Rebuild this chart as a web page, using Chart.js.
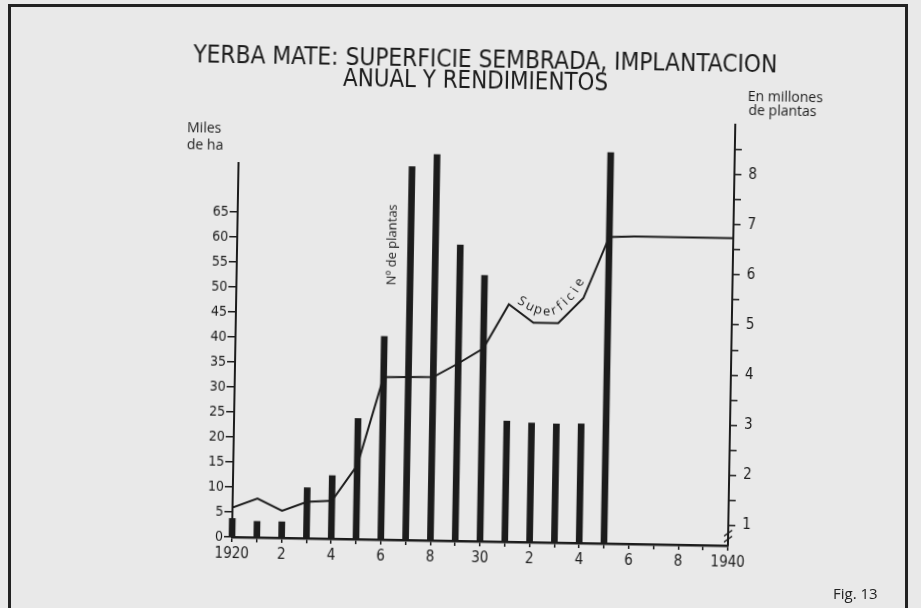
<!DOCTYPE html>
<html>
<head>
<meta charset="utf-8">
<script src="https://cdn.jsdelivr.net/npm/chart.js@4.4.1/dist/chart.umd.min.js"></script>
<style>
  html, body { margin: 0; padding: 0; background: #e9e9e9; }
  #page { position: relative; width: 921px; height: 608px; overflow: hidden; background: #e9e9e9; }
  #frame { position: absolute; left: 8px; top: 4px; width: 900px; height: 700px; border: 3px solid #222; box-sizing: border-box; }
  #plot { position: absolute; left: 0; top: 0; width: 921px; height: 608px; transform-origin: 232px 537px; transform: rotate(1deg); }
  #fig { position: absolute; left: 833px; top: 586px; font: 15px 'Open Sans'; line-height: 15px; color: #222; }
</style>
</head>
<body>
<div id="page">
  <div id="frame"></div>
  <div id="plot"><canvas id="c" width="921" height="608"></canvas></div>
  <div id="fig">Fig. 13</div>
</div>
<script>
// plantas (millones), right axis
const barYears = [1920, 1921, 1922, 1923, 1924, 1925, 1926, 1927, 1928, 1929, 1930, 1931, 1932, 1933, 1934, 1935];
const plantas = [0.96, 0.91, 0.91, 1.6, 1.85, 3.0, 4.65, 8.05, 8.3, 6.5, 5.9, 3.0, 2.97, 2.96, 2.97, 8.4];

// superficie (miles de ha), left axis
const lineYears = [1920, 1921, 1922, 1923, 1924, 1925, 1926, 1927, 1928, 1929, 1930, 1931, 1932, 1933, 1934, 1935, 1936, 1937, 1938, 1939, 1940];
const superficie = [5.9, 7.8, 5.4, 7.3, 7.6, 14.8, 32.5, 32.6, 32.7, 35.5, 38.6, 47.5, 43.9, 43.9, 49, 61.3, 61.5, 61.5, 61.5, 61.5, 61.5];

const xTickYears = lineYears;
const xTickText = ['1920', '', '2', '', '4', '', '6', '', '8', '', '30', '', '2', '', '4', '', '6', '', '8', '', '1940'];
const leftTicks = [0, 5, 10, 15, 20, 25, 30, 35, 40, 45, 50, 55, 60, 65];
const rightTicks = [1, 1.5, 2, 2.5, 3, 3.5, 4, 4.5, 5, 5.5, 6, 6.5, 7, 7.5, 8, 8.5];

const titleLines = ['YERBA MATE: SUPERFICIE SEMBRADA, IMPLANTACION', 'ANUAL Y RENDIMIENTOS'];
// letters of the curved "Superficie" label: [char, year, miles de ha, angle]
const superLabel = [['S', 1931.52, 48.1, 30], ['u', 1931.85, 47.1, 26], ['p', 1932.18, 46.5, 16], ['e', 1932.53, 46.2, 0],
  ['r', 1932.82, 46.4, -20], ['f', 1933.06, 47.2, -38], ['i', 1933.26, 48.2, -46], ['c', 1933.46, 49.2, -50],
  ['i', 1933.66, 50.6, -57], ['e', 1933.83, 52.1, -60]];

const ink = '#1c1c1c';
const narrow = "'Liberation Sans Narrow', 'DejaVu Sans Condensed', sans-serif";
const humanist = "'Open Sans', 'Noto Sans', sans-serif";

function fitText(ctx, text, cx, baseline, width) {
  const w = ctx.measureText(text).width;
  ctx.save();
  ctx.translate(cx, baseline);
  ctx.scale(width / w, 1);
  ctx.fillText(text, 0, 0);
  ctx.restore();
}

const decorations = {
  id: 'decorations',
  afterDraw(chart) {
    const { ctx, chartArea: a, scales: { x, y, y2 } } = chart;
    ctx.save();
    ctx.strokeStyle = ink;
    ctx.fillStyle = ink;

    // left axis stops at 75
    ctx.lineWidth = 2;
    ctx.beginPath();
    ctx.moveTo(a.left, y.getPixelForValue(0));
    ctx.lineTo(a.left, y.getPixelForValue(75));
    ctx.stroke();

    // break mark on right axis
    ctx.lineWidth = 1.5;
    [0.72, 0.84].forEach(v => {
      const py = y2.getPixelForValue(v);
      ctx.beginPath();
      ctx.moveTo(a.right - 4, py + 3);
      ctx.lineTo(a.right + 4, py - 3);
      ctx.stroke();
    });

    // title
    ctx.font = '25px ' + narrow;
    ctx.textAlign = 'center';
    ctx.textBaseline = 'alphabetic';
    fitText(ctx, titleLines[0], 477, 63, 584);
    fitText(ctx, titleLines[1], 467.5, 84, 265);

    // axis units
    ctx.font = '14px ' + humanist;
    ctx.textAlign = 'left';
    ctx.textBaseline = 'middle';
    ctx.fillText('Miles', 180, 129);
    ctx.fillText('de ha', 180, 146);
    ctx.fillText('En millones', 740, 88);
    ctx.fillText('de plantas', 741, 102);

    // series labels
    ctx.font = '13px ' + humanist;
    ctx.textAlign = 'center';
    ctx.save();
    ctx.translate(x.getPixelForValue(1926.25), y.getPixelForValue(59));
    ctx.rotate(-Math.PI / 2);
    ctx.fillText('Nº de plantas', 0, 0);
    ctx.restore();

    superLabel.forEach(([ch, yr, v, ang]) => {
      ctx.save();
      ctx.translate(x.getPixelForValue(yr), y.getPixelForValue(v));
      ctx.rotate(ang * Math.PI / 180);
      ctx.fillText(ch, 0, 0);
      ctx.restore();
    });
    ctx.restore();
  }
};

new Chart(document.getElementById('c'), {
  type: 'bar',
  data: {
    datasets: [
      {
        type: 'line',
        label: 'Superficie',
        data: lineYears.map((yr, i) => ({ x: yr, y: superficie[i] })),
        yAxisID: 'y',
        borderColor: ink,
        borderWidth: 2,
        pointRadius: 0,
        tension: 0,
        fill: false
      },
      {
        label: 'Nº de plantas',
        data: barYears.map((yr, i) => ({ x: yr, y: plantas[i] })),
        yAxisID: 'y2',
        backgroundColor: ink,
        barThickness: 6,
        clip: { left: 5, top: 5, right: 5, bottom: 0 }
      }
    ]
  },
  options: {
    responsive: false,
    maintainAspectRatio: false,
    devicePixelRatio: 1,
    animation: false,
    layout: { padding: { top: 116, left: 0, right: 0, bottom: 0 } },
    plugins: { legend: { display: false }, title: { display: false }, tooltip: { enabled: false } },
    scales: {
      x: {
        type: 'linear',
        offset: false,
        min: 1920,
        max: 1940,
        afterBuildTicks: s => { s.ticks = xTickYears.map(v => ({ value: v })); },
        afterFit: s => { s.height = 71; },
        ticks: {
          autoSkip: false, maxRotation: 0, padding: 3,
          color: ink, font: { family: narrow, size: 15 },
          callback: (v, i) => xTickText[i]
        },
        grid: { offset: false, drawOnChartArea: false, drawTicks: true, tickLength: 5, color: ink, lineWidth: 1.5 },
        border: { display: true, color: ink, width: 2.5 }
      },
      y: {
        position: 'left',
        min: 0,
        max: 84.2,
        afterBuildTicks: s => { s.ticks = leftTicks.map(v => ({ value: v })); },
        afterFit: s => { s.width = 232; },
        ticks: { autoSkip: false, padding: 1, color: ink, font: { family: narrow, size: 14 } },
        grid: { drawOnChartArea: false, drawTicks: true, tickLength: 8, color: ink, lineWidth: 1.5 },
        border: { display: false }
      },
      y2: {
        position: 'right',
        min: 0.59,
        max: 9.0,
        afterBuildTicks: s => { s.ticks = rightTicks.map(v => ({ value: v })); },
        afterFit: s => { s.width = 193; },
        ticks: {
          autoSkip: false, padding: 7, color: ink, font: { family: narrow, size: 15 },
          callback: v => (Number.isInteger(v) ? String(v) : '')
        },
        grid: { drawOnChartArea: false, drawTicks: true, tickLength: 7, color: ink, lineWidth: 1.5 },
        border: { display: true, color: ink, width: 2 }
      }
    }
  },
  plugins: [decorations]
});
</script>
</body>
</html>
